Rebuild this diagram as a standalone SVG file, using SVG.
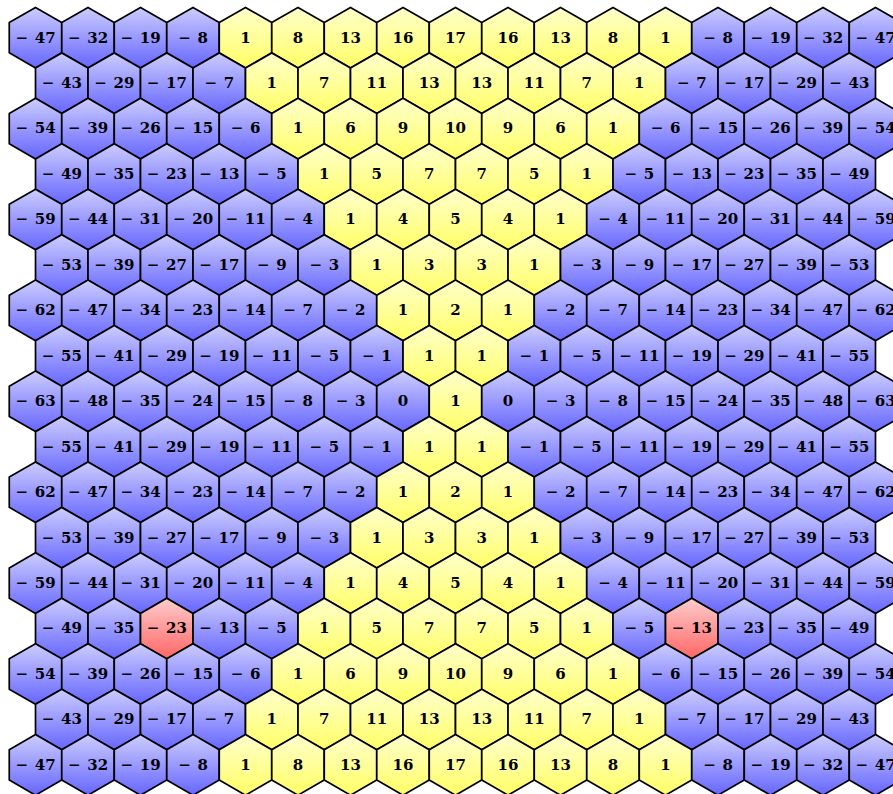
<svg xmlns="http://www.w3.org/2000/svg" xmlns:xlink="http://www.w3.org/1999/xlink" width="893" height="794" viewBox="0 0 893 794">
<defs>
<linearGradient id="gb" x1="0" y1="0" x2="0" y2="1"><stop offset="0" stop-color="#ccccff"/><stop offset="1" stop-color="#6666ff"/></linearGradient>
<linearGradient id="gy" x1="0" y1="0" x2="0" y2="1"><stop offset="0" stop-color="#ffffcc"/><stop offset="1" stop-color="#ffff66"/></linearGradient>
<linearGradient id="gr" x1="0" y1="0" x2="0" y2="1"><stop offset="0" stop-color="#ffcccc"/><stop offset="1" stop-color="#ff6666"/></linearGradient>
<path id="h" d="M0,-30.3 L26.24,-15.15 L26.24,15.15 L0,30.3 L-26.24,15.15 L-26.24,-15.15 Z"/>
</defs>
<style>
use{stroke:#000;stroke-width:1.7;stroke-linejoin:round}
.b{fill:url(#gb)}.y{fill:url(#gy)}.r{fill:url(#gr)}
text{font-family:"DejaVu Serif","Liberation Serif",serif;font-weight:bold;font-size:15px;text-anchor:middle;fill:#000;word-spacing:1.5px}
</style>
<rect width="893" height="794" fill="#fff"/>
<g id="cells">
<g id="r0c0" transform="translate(35.5,37.7)"><use href="#h" class="b"/><text y="4.8">− 47</text></g>
<g id="r0c1" transform="translate(88,37.7)"><use href="#h" class="b"/><text y="4.8">− 32</text></g>
<g id="r0c2" transform="translate(140.5,37.7)"><use href="#h" class="b"/><text y="4.8">− 19</text></g>
<g id="r0c3" transform="translate(193,37.7)"><use href="#h" class="b"/><text y="4.8">− 8</text></g>
<g id="r0c4" transform="translate(245.5,37.7)"><use href="#h" class="y"/><text y="4.8">1</text></g>
<g id="r0c5" transform="translate(298,37.7)"><use href="#h" class="y"/><text y="4.8">8</text></g>
<g id="r0c6" transform="translate(350.5,37.7)"><use href="#h" class="y"/><text y="4.8">13</text></g>
<g id="r0c7" transform="translate(403,37.7)"><use href="#h" class="y"/><text y="4.8">16</text></g>
<g id="r0c8" transform="translate(455.5,37.7)"><use href="#h" class="y"/><text y="4.8">17</text></g>
<g id="r0c9" transform="translate(508,37.7)"><use href="#h" class="y"/><text y="4.8">16</text></g>
<g id="r0c10" transform="translate(560.5,37.7)"><use href="#h" class="y"/><text y="4.8">13</text></g>
<g id="r0c11" transform="translate(613,37.7)"><use href="#h" class="y"/><text y="4.8">8</text></g>
<g id="r0c12" transform="translate(665.5,37.7)"><use href="#h" class="y"/><text y="4.8">1</text></g>
<g id="r0c13" transform="translate(718,37.7)"><use href="#h" class="b"/><text y="4.8">− 8</text></g>
<g id="r0c14" transform="translate(770.5,37.7)"><use href="#h" class="b"/><text y="4.8">− 19</text></g>
<g id="r0c15" transform="translate(823,37.7)"><use href="#h" class="b"/><text y="4.8">− 32</text></g>
<g id="r0c16" transform="translate(875.5,37.7)"><use href="#h" class="b"/><text y="4.8">− 47</text></g>

<g id="r1c0" transform="translate(61.75,83.2)"><use href="#h" class="b"/><text y="4.8">− 43</text></g>
<g id="r1c1" transform="translate(114.25,83.2)"><use href="#h" class="b"/><text y="4.8">− 29</text></g>
<g id="r1c2" transform="translate(166.75,83.2)"><use href="#h" class="b"/><text y="4.8">− 17</text></g>
<g id="r1c3" transform="translate(219.25,83.2)"><use href="#h" class="b"/><text y="4.8">− 7</text></g>
<g id="r1c4" transform="translate(271.75,83.2)"><use href="#h" class="y"/><text y="4.8">1</text></g>
<g id="r1c5" transform="translate(324.25,83.2)"><use href="#h" class="y"/><text y="4.8">7</text></g>
<g id="r1c6" transform="translate(376.75,83.2)"><use href="#h" class="y"/><text y="4.8">11</text></g>
<g id="r1c7" transform="translate(429.25,83.2)"><use href="#h" class="y"/><text y="4.8">13</text></g>
<g id="r1c8" transform="translate(481.75,83.2)"><use href="#h" class="y"/><text y="4.8">13</text></g>
<g id="r1c9" transform="translate(534.25,83.2)"><use href="#h" class="y"/><text y="4.8">11</text></g>
<g id="r1c10" transform="translate(586.75,83.2)"><use href="#h" class="y"/><text y="4.8">7</text></g>
<g id="r1c11" transform="translate(639.25,83.2)"><use href="#h" class="y"/><text y="4.8">1</text></g>
<g id="r1c12" transform="translate(691.75,83.2)"><use href="#h" class="b"/><text y="4.8">− 7</text></g>
<g id="r1c13" transform="translate(744.25,83.2)"><use href="#h" class="b"/><text y="4.8">− 17</text></g>
<g id="r1c14" transform="translate(796.75,83.2)"><use href="#h" class="b"/><text y="4.8">− 29</text></g>
<g id="r1c15" transform="translate(849.25,83.2)"><use href="#h" class="b"/><text y="4.8">− 43</text></g>

<g id="r2c0" transform="translate(35.5,128.6)"><use href="#h" class="b"/><text y="4.8">− 54</text></g>
<g id="r2c1" transform="translate(88,128.6)"><use href="#h" class="b"/><text y="4.8">− 39</text></g>
<g id="r2c2" transform="translate(140.5,128.6)"><use href="#h" class="b"/><text y="4.8">− 26</text></g>
<g id="r2c3" transform="translate(193,128.6)"><use href="#h" class="b"/><text y="4.8">− 15</text></g>
<g id="r2c4" transform="translate(245.5,128.6)"><use href="#h" class="b"/><text y="4.8">− 6</text></g>
<g id="r2c5" transform="translate(298,128.6)"><use href="#h" class="y"/><text y="4.8">1</text></g>
<g id="r2c6" transform="translate(350.5,128.6)"><use href="#h" class="y"/><text y="4.8">6</text></g>
<g id="r2c7" transform="translate(403,128.6)"><use href="#h" class="y"/><text y="4.8">9</text></g>
<g id="r2c8" transform="translate(455.5,128.6)"><use href="#h" class="y"/><text y="4.8">10</text></g>
<g id="r2c9" transform="translate(508,128.6)"><use href="#h" class="y"/><text y="4.8">9</text></g>
<g id="r2c10" transform="translate(560.5,128.6)"><use href="#h" class="y"/><text y="4.8">6</text></g>
<g id="r2c11" transform="translate(613,128.6)"><use href="#h" class="y"/><text y="4.8">1</text></g>
<g id="r2c12" transform="translate(665.5,128.6)"><use href="#h" class="b"/><text y="4.8">− 6</text></g>
<g id="r2c13" transform="translate(718,128.6)"><use href="#h" class="b"/><text y="4.8">− 15</text></g>
<g id="r2c14" transform="translate(770.5,128.6)"><use href="#h" class="b"/><text y="4.8">− 26</text></g>
<g id="r2c15" transform="translate(823,128.6)"><use href="#h" class="b"/><text y="4.8">− 39</text></g>
<g id="r2c16" transform="translate(875.5,128.6)"><use href="#h" class="b"/><text y="4.8">− 54</text></g>

<g id="r3c0" transform="translate(61.75,174.1)"><use href="#h" class="b"/><text y="4.8">− 49</text></g>
<g id="r3c1" transform="translate(114.25,174.1)"><use href="#h" class="b"/><text y="4.8">− 35</text></g>
<g id="r3c2" transform="translate(166.75,174.1)"><use href="#h" class="b"/><text y="4.8">− 23</text></g>
<g id="r3c3" transform="translate(219.25,174.1)"><use href="#h" class="b"/><text y="4.8">− 13</text></g>
<g id="r3c4" transform="translate(271.75,174.1)"><use href="#h" class="b"/><text y="4.8">− 5</text></g>
<g id="r3c5" transform="translate(324.25,174.1)"><use href="#h" class="y"/><text y="4.8">1</text></g>
<g id="r3c6" transform="translate(376.75,174.1)"><use href="#h" class="y"/><text y="4.8">5</text></g>
<g id="r3c7" transform="translate(429.25,174.1)"><use href="#h" class="y"/><text y="4.8">7</text></g>
<g id="r3c8" transform="translate(481.75,174.1)"><use href="#h" class="y"/><text y="4.8">7</text></g>
<g id="r3c9" transform="translate(534.25,174.1)"><use href="#h" class="y"/><text y="4.8">5</text></g>
<g id="r3c10" transform="translate(586.75,174.1)"><use href="#h" class="y"/><text y="4.8">1</text></g>
<g id="r3c11" transform="translate(639.25,174.1)"><use href="#h" class="b"/><text y="4.8">− 5</text></g>
<g id="r3c12" transform="translate(691.75,174.1)"><use href="#h" class="b"/><text y="4.8">− 13</text></g>
<g id="r3c13" transform="translate(744.25,174.1)"><use href="#h" class="b"/><text y="4.8">− 23</text></g>
<g id="r3c14" transform="translate(796.75,174.1)"><use href="#h" class="b"/><text y="4.8">− 35</text></g>
<g id="r3c15" transform="translate(849.25,174.1)"><use href="#h" class="b"/><text y="4.8">− 49</text></g>

<g id="r4c0" transform="translate(35.5,219.5)"><use href="#h" class="b"/><text y="4.8">− 59</text></g>
<g id="r4c1" transform="translate(88,219.5)"><use href="#h" class="b"/><text y="4.8">− 44</text></g>
<g id="r4c2" transform="translate(140.5,219.5)"><use href="#h" class="b"/><text y="4.8">− 31</text></g>
<g id="r4c3" transform="translate(193,219.5)"><use href="#h" class="b"/><text y="4.8">− 20</text></g>
<g id="r4c4" transform="translate(245.5,219.5)"><use href="#h" class="b"/><text y="4.8">− 11</text></g>
<g id="r4c5" transform="translate(298,219.5)"><use href="#h" class="b"/><text y="4.8">− 4</text></g>
<g id="r4c6" transform="translate(350.5,219.5)"><use href="#h" class="y"/><text y="4.8">1</text></g>
<g id="r4c7" transform="translate(403,219.5)"><use href="#h" class="y"/><text y="4.8">4</text></g>
<g id="r4c8" transform="translate(455.5,219.5)"><use href="#h" class="y"/><text y="4.8">5</text></g>
<g id="r4c9" transform="translate(508,219.5)"><use href="#h" class="y"/><text y="4.8">4</text></g>
<g id="r4c10" transform="translate(560.5,219.5)"><use href="#h" class="y"/><text y="4.8">1</text></g>
<g id="r4c11" transform="translate(613,219.5)"><use href="#h" class="b"/><text y="4.8">− 4</text></g>
<g id="r4c12" transform="translate(665.5,219.5)"><use href="#h" class="b"/><text y="4.8">− 11</text></g>
<g id="r4c13" transform="translate(718,219.5)"><use href="#h" class="b"/><text y="4.8">− 20</text></g>
<g id="r4c14" transform="translate(770.5,219.5)"><use href="#h" class="b"/><text y="4.8">− 31</text></g>
<g id="r4c15" transform="translate(823,219.5)"><use href="#h" class="b"/><text y="4.8">− 44</text></g>
<g id="r4c16" transform="translate(875.5,219.5)"><use href="#h" class="b"/><text y="4.8">− 59</text></g>

<g id="r5c0" transform="translate(61.75,265)"><use href="#h" class="b"/><text y="4.8">− 53</text></g>
<g id="r5c1" transform="translate(114.25,265)"><use href="#h" class="b"/><text y="4.8">− 39</text></g>
<g id="r5c2" transform="translate(166.75,265)"><use href="#h" class="b"/><text y="4.8">− 27</text></g>
<g id="r5c3" transform="translate(219.25,265)"><use href="#h" class="b"/><text y="4.8">− 17</text></g>
<g id="r5c4" transform="translate(271.75,265)"><use href="#h" class="b"/><text y="4.8">− 9</text></g>
<g id="r5c5" transform="translate(324.25,265)"><use href="#h" class="b"/><text y="4.8">− 3</text></g>
<g id="r5c6" transform="translate(376.75,265)"><use href="#h" class="y"/><text y="4.8">1</text></g>
<g id="r5c7" transform="translate(429.25,265)"><use href="#h" class="y"/><text y="4.8">3</text></g>
<g id="r5c8" transform="translate(481.75,265)"><use href="#h" class="y"/><text y="4.8">3</text></g>
<g id="r5c9" transform="translate(534.25,265)"><use href="#h" class="y"/><text y="4.8">1</text></g>
<g id="r5c10" transform="translate(586.75,265)"><use href="#h" class="b"/><text y="4.8">− 3</text></g>
<g id="r5c11" transform="translate(639.25,265)"><use href="#h" class="b"/><text y="4.8">− 9</text></g>
<g id="r5c12" transform="translate(691.75,265)"><use href="#h" class="b"/><text y="4.8">− 17</text></g>
<g id="r5c13" transform="translate(744.25,265)"><use href="#h" class="b"/><text y="4.8">− 27</text></g>
<g id="r5c14" transform="translate(796.75,265)"><use href="#h" class="b"/><text y="4.8">− 39</text></g>
<g id="r5c15" transform="translate(849.25,265)"><use href="#h" class="b"/><text y="4.8">− 53</text></g>

<g id="r6c0" transform="translate(35.5,310.4)"><use href="#h" class="b"/><text y="4.8">− 62</text></g>
<g id="r6c1" transform="translate(88,310.4)"><use href="#h" class="b"/><text y="4.8">− 47</text></g>
<g id="r6c2" transform="translate(140.5,310.4)"><use href="#h" class="b"/><text y="4.8">− 34</text></g>
<g id="r6c3" transform="translate(193,310.4)"><use href="#h" class="b"/><text y="4.8">− 23</text></g>
<g id="r6c4" transform="translate(245.5,310.4)"><use href="#h" class="b"/><text y="4.8">− 14</text></g>
<g id="r6c5" transform="translate(298,310.4)"><use href="#h" class="b"/><text y="4.8">− 7</text></g>
<g id="r6c6" transform="translate(350.5,310.4)"><use href="#h" class="b"/><text y="4.8">− 2</text></g>
<g id="r6c7" transform="translate(403,310.4)"><use href="#h" class="y"/><text y="4.8">1</text></g>
<g id="r6c8" transform="translate(455.5,310.4)"><use href="#h" class="y"/><text y="4.8">2</text></g>
<g id="r6c9" transform="translate(508,310.4)"><use href="#h" class="y"/><text y="4.8">1</text></g>
<g id="r6c10" transform="translate(560.5,310.4)"><use href="#h" class="b"/><text y="4.8">− 2</text></g>
<g id="r6c11" transform="translate(613,310.4)"><use href="#h" class="b"/><text y="4.8">− 7</text></g>
<g id="r6c12" transform="translate(665.5,310.4)"><use href="#h" class="b"/><text y="4.8">− 14</text></g>
<g id="r6c13" transform="translate(718,310.4)"><use href="#h" class="b"/><text y="4.8">− 23</text></g>
<g id="r6c14" transform="translate(770.5,310.4)"><use href="#h" class="b"/><text y="4.8">− 34</text></g>
<g id="r6c15" transform="translate(823,310.4)"><use href="#h" class="b"/><text y="4.8">− 47</text></g>
<g id="r6c16" transform="translate(875.5,310.4)"><use href="#h" class="b"/><text y="4.8">− 62</text></g>

<g id="r7c0" transform="translate(61.75,355.9)"><use href="#h" class="b"/><text y="4.8">− 55</text></g>
<g id="r7c1" transform="translate(114.25,355.9)"><use href="#h" class="b"/><text y="4.8">− 41</text></g>
<g id="r7c2" transform="translate(166.75,355.9)"><use href="#h" class="b"/><text y="4.8">− 29</text></g>
<g id="r7c3" transform="translate(219.25,355.9)"><use href="#h" class="b"/><text y="4.8">− 19</text></g>
<g id="r7c4" transform="translate(271.75,355.9)"><use href="#h" class="b"/><text y="4.8">− 11</text></g>
<g id="r7c5" transform="translate(324.25,355.9)"><use href="#h" class="b"/><text y="4.8">− 5</text></g>
<g id="r7c6" transform="translate(376.75,355.9)"><use href="#h" class="b"/><text y="4.8">− 1</text></g>
<g id="r7c7" transform="translate(429.25,355.9)"><use href="#h" class="y"/><text y="4.8">1</text></g>
<g id="r7c8" transform="translate(481.75,355.9)"><use href="#h" class="y"/><text y="4.8">1</text></g>
<g id="r7c9" transform="translate(534.25,355.9)"><use href="#h" class="b"/><text y="4.8">− 1</text></g>
<g id="r7c10" transform="translate(586.75,355.9)"><use href="#h" class="b"/><text y="4.8">− 5</text></g>
<g id="r7c11" transform="translate(639.25,355.9)"><use href="#h" class="b"/><text y="4.8">− 11</text></g>
<g id="r7c12" transform="translate(691.75,355.9)"><use href="#h" class="b"/><text y="4.8">− 19</text></g>
<g id="r7c13" transform="translate(744.25,355.9)"><use href="#h" class="b"/><text y="4.8">− 29</text></g>
<g id="r7c14" transform="translate(796.75,355.9)"><use href="#h" class="b"/><text y="4.8">− 41</text></g>
<g id="r7c15" transform="translate(849.25,355.9)"><use href="#h" class="b"/><text y="4.8">− 55</text></g>

<g id="r8c0" transform="translate(35.5,401.3)"><use href="#h" class="b"/><text y="4.8">− 63</text></g>
<g id="r8c1" transform="translate(88,401.3)"><use href="#h" class="b"/><text y="4.8">− 48</text></g>
<g id="r8c2" transform="translate(140.5,401.3)"><use href="#h" class="b"/><text y="4.8">− 35</text></g>
<g id="r8c3" transform="translate(193,401.3)"><use href="#h" class="b"/><text y="4.8">− 24</text></g>
<g id="r8c4" transform="translate(245.5,401.3)"><use href="#h" class="b"/><text y="4.8">− 15</text></g>
<g id="r8c5" transform="translate(298,401.3)"><use href="#h" class="b"/><text y="4.8">− 8</text></g>
<g id="r8c6" transform="translate(350.5,401.3)"><use href="#h" class="b"/><text y="4.8">− 3</text></g>
<g id="r8c7" transform="translate(403,401.3)"><use href="#h" class="b"/><text y="4.8">0</text></g>
<g id="r8c8" transform="translate(455.5,401.3)"><use href="#h" class="y"/><text y="4.8">1</text></g>
<g id="r8c9" transform="translate(508,401.3)"><use href="#h" class="b"/><text y="4.8">0</text></g>
<g id="r8c10" transform="translate(560.5,401.3)"><use href="#h" class="b"/><text y="4.8">− 3</text></g>
<g id="r8c11" transform="translate(613,401.3)"><use href="#h" class="b"/><text y="4.8">− 8</text></g>
<g id="r8c12" transform="translate(665.5,401.3)"><use href="#h" class="b"/><text y="4.8">− 15</text></g>
<g id="r8c13" transform="translate(718,401.3)"><use href="#h" class="b"/><text y="4.8">− 24</text></g>
<g id="r8c14" transform="translate(770.5,401.3)"><use href="#h" class="b"/><text y="4.8">− 35</text></g>
<g id="r8c15" transform="translate(823,401.3)"><use href="#h" class="b"/><text y="4.8">− 48</text></g>
<g id="r8c16" transform="translate(875.5,401.3)"><use href="#h" class="b"/><text y="4.8">− 63</text></g>

<g id="r9c0" transform="translate(61.75,446.8)"><use href="#h" class="b"/><text y="4.8">− 55</text></g>
<g id="r9c1" transform="translate(114.25,446.8)"><use href="#h" class="b"/><text y="4.8">− 41</text></g>
<g id="r9c2" transform="translate(166.75,446.8)"><use href="#h" class="b"/><text y="4.8">− 29</text></g>
<g id="r9c3" transform="translate(219.25,446.8)"><use href="#h" class="b"/><text y="4.8">− 19</text></g>
<g id="r9c4" transform="translate(271.75,446.8)"><use href="#h" class="b"/><text y="4.8">− 11</text></g>
<g id="r9c5" transform="translate(324.25,446.8)"><use href="#h" class="b"/><text y="4.8">− 5</text></g>
<g id="r9c6" transform="translate(376.75,446.8)"><use href="#h" class="b"/><text y="4.8">− 1</text></g>
<g id="r9c7" transform="translate(429.25,446.8)"><use href="#h" class="y"/><text y="4.8">1</text></g>
<g id="r9c8" transform="translate(481.75,446.8)"><use href="#h" class="y"/><text y="4.8">1</text></g>
<g id="r9c9" transform="translate(534.25,446.8)"><use href="#h" class="b"/><text y="4.8">− 1</text></g>
<g id="r9c10" transform="translate(586.75,446.8)"><use href="#h" class="b"/><text y="4.8">− 5</text></g>
<g id="r9c11" transform="translate(639.25,446.8)"><use href="#h" class="b"/><text y="4.8">− 11</text></g>
<g id="r9c12" transform="translate(691.75,446.8)"><use href="#h" class="b"/><text y="4.8">− 19</text></g>
<g id="r9c13" transform="translate(744.25,446.8)"><use href="#h" class="b"/><text y="4.8">− 29</text></g>
<g id="r9c14" transform="translate(796.75,446.8)"><use href="#h" class="b"/><text y="4.8">− 41</text></g>
<g id="r9c15" transform="translate(849.25,446.8)"><use href="#h" class="b"/><text y="4.8">− 55</text></g>

<g id="r10c0" transform="translate(35.5,492.2)"><use href="#h" class="b"/><text y="4.8">− 62</text></g>
<g id="r10c1" transform="translate(88,492.2)"><use href="#h" class="b"/><text y="4.8">− 47</text></g>
<g id="r10c2" transform="translate(140.5,492.2)"><use href="#h" class="b"/><text y="4.8">− 34</text></g>
<g id="r10c3" transform="translate(193,492.2)"><use href="#h" class="b"/><text y="4.8">− 23</text></g>
<g id="r10c4" transform="translate(245.5,492.2)"><use href="#h" class="b"/><text y="4.8">− 14</text></g>
<g id="r10c5" transform="translate(298,492.2)"><use href="#h" class="b"/><text y="4.8">− 7</text></g>
<g id="r10c6" transform="translate(350.5,492.2)"><use href="#h" class="b"/><text y="4.8">− 2</text></g>
<g id="r10c7" transform="translate(403,492.2)"><use href="#h" class="y"/><text y="4.8">1</text></g>
<g id="r10c8" transform="translate(455.5,492.2)"><use href="#h" class="y"/><text y="4.8">2</text></g>
<g id="r10c9" transform="translate(508,492.2)"><use href="#h" class="y"/><text y="4.8">1</text></g>
<g id="r10c10" transform="translate(560.5,492.2)"><use href="#h" class="b"/><text y="4.8">− 2</text></g>
<g id="r10c11" transform="translate(613,492.2)"><use href="#h" class="b"/><text y="4.8">− 7</text></g>
<g id="r10c12" transform="translate(665.5,492.2)"><use href="#h" class="b"/><text y="4.8">− 14</text></g>
<g id="r10c13" transform="translate(718,492.2)"><use href="#h" class="b"/><text y="4.8">− 23</text></g>
<g id="r10c14" transform="translate(770.5,492.2)"><use href="#h" class="b"/><text y="4.8">− 34</text></g>
<g id="r10c15" transform="translate(823,492.2)"><use href="#h" class="b"/><text y="4.8">− 47</text></g>
<g id="r10c16" transform="translate(875.5,492.2)"><use href="#h" class="b"/><text y="4.8">− 62</text></g>

<g id="r11c0" transform="translate(61.75,537.7)"><use href="#h" class="b"/><text y="4.8">− 53</text></g>
<g id="r11c1" transform="translate(114.25,537.7)"><use href="#h" class="b"/><text y="4.8">− 39</text></g>
<g id="r11c2" transform="translate(166.75,537.7)"><use href="#h" class="b"/><text y="4.8">− 27</text></g>
<g id="r11c3" transform="translate(219.25,537.7)"><use href="#h" class="b"/><text y="4.8">− 17</text></g>
<g id="r11c4" transform="translate(271.75,537.7)"><use href="#h" class="b"/><text y="4.8">− 9</text></g>
<g id="r11c5" transform="translate(324.25,537.7)"><use href="#h" class="b"/><text y="4.8">− 3</text></g>
<g id="r11c6" transform="translate(376.75,537.7)"><use href="#h" class="y"/><text y="4.8">1</text></g>
<g id="r11c7" transform="translate(429.25,537.7)"><use href="#h" class="y"/><text y="4.8">3</text></g>
<g id="r11c8" transform="translate(481.75,537.7)"><use href="#h" class="y"/><text y="4.8">3</text></g>
<g id="r11c9" transform="translate(534.25,537.7)"><use href="#h" class="y"/><text y="4.8">1</text></g>
<g id="r11c10" transform="translate(586.75,537.7)"><use href="#h" class="b"/><text y="4.8">− 3</text></g>
<g id="r11c11" transform="translate(639.25,537.7)"><use href="#h" class="b"/><text y="4.8">− 9</text></g>
<g id="r11c12" transform="translate(691.75,537.7)"><use href="#h" class="b"/><text y="4.8">− 17</text></g>
<g id="r11c13" transform="translate(744.25,537.7)"><use href="#h" class="b"/><text y="4.8">− 27</text></g>
<g id="r11c14" transform="translate(796.75,537.7)"><use href="#h" class="b"/><text y="4.8">− 39</text></g>
<g id="r11c15" transform="translate(849.25,537.7)"><use href="#h" class="b"/><text y="4.8">− 53</text></g>

<g id="r12c0" transform="translate(35.5,583.1)"><use href="#h" class="b"/><text y="4.8">− 59</text></g>
<g id="r12c1" transform="translate(88,583.1)"><use href="#h" class="b"/><text y="4.8">− 44</text></g>
<g id="r12c2" transform="translate(140.5,583.1)"><use href="#h" class="b"/><text y="4.8">− 31</text></g>
<g id="r12c3" transform="translate(193,583.1)"><use href="#h" class="b"/><text y="4.8">− 20</text></g>
<g id="r12c4" transform="translate(245.5,583.1)"><use href="#h" class="b"/><text y="4.8">− 11</text></g>
<g id="r12c5" transform="translate(298,583.1)"><use href="#h" class="b"/><text y="4.8">− 4</text></g>
<g id="r12c6" transform="translate(350.5,583.1)"><use href="#h" class="y"/><text y="4.8">1</text></g>
<g id="r12c7" transform="translate(403,583.1)"><use href="#h" class="y"/><text y="4.8">4</text></g>
<g id="r12c8" transform="translate(455.5,583.1)"><use href="#h" class="y"/><text y="4.8">5</text></g>
<g id="r12c9" transform="translate(508,583.1)"><use href="#h" class="y"/><text y="4.8">4</text></g>
<g id="r12c10" transform="translate(560.5,583.1)"><use href="#h" class="y"/><text y="4.8">1</text></g>
<g id="r12c11" transform="translate(613,583.1)"><use href="#h" class="b"/><text y="4.8">− 4</text></g>
<g id="r12c12" transform="translate(665.5,583.1)"><use href="#h" class="b"/><text y="4.8">− 11</text></g>
<g id="r12c13" transform="translate(718,583.1)"><use href="#h" class="b"/><text y="4.8">− 20</text></g>
<g id="r12c14" transform="translate(770.5,583.1)"><use href="#h" class="b"/><text y="4.8">− 31</text></g>
<g id="r12c15" transform="translate(823,583.1)"><use href="#h" class="b"/><text y="4.8">− 44</text></g>
<g id="r12c16" transform="translate(875.5,583.1)"><use href="#h" class="b"/><text y="4.8">− 59</text></g>

<g id="r13c0" transform="translate(61.75,628.6)"><use href="#h" class="b"/><text y="4.8">− 49</text></g>
<g id="r13c1" transform="translate(114.25,628.6)"><use href="#h" class="b"/><text y="4.8">− 35</text></g>
<g id="r13c2" transform="translate(166.75,628.6)"><use href="#h" class="r"/><text y="4.8">− 23</text></g>
<g id="r13c3" transform="translate(219.25,628.6)"><use href="#h" class="b"/><text y="4.8">− 13</text></g>
<g id="r13c4" transform="translate(271.75,628.6)"><use href="#h" class="b"/><text y="4.8">− 5</text></g>
<g id="r13c5" transform="translate(324.25,628.6)"><use href="#h" class="y"/><text y="4.8">1</text></g>
<g id="r13c6" transform="translate(376.75,628.6)"><use href="#h" class="y"/><text y="4.8">5</text></g>
<g id="r13c7" transform="translate(429.25,628.6)"><use href="#h" class="y"/><text y="4.8">7</text></g>
<g id="r13c8" transform="translate(481.75,628.6)"><use href="#h" class="y"/><text y="4.8">7</text></g>
<g id="r13c9" transform="translate(534.25,628.6)"><use href="#h" class="y"/><text y="4.8">5</text></g>
<g id="r13c10" transform="translate(586.75,628.6)"><use href="#h" class="y"/><text y="4.8">1</text></g>
<g id="r13c11" transform="translate(639.25,628.6)"><use href="#h" class="b"/><text y="4.8">− 5</text></g>
<g id="r13c12" transform="translate(691.75,628.6)"><use href="#h" class="r"/><text y="4.8">− 13</text></g>
<g id="r13c13" transform="translate(744.25,628.6)"><use href="#h" class="b"/><text y="4.8">− 23</text></g>
<g id="r13c14" transform="translate(796.75,628.6)"><use href="#h" class="b"/><text y="4.8">− 35</text></g>
<g id="r13c15" transform="translate(849.25,628.6)"><use href="#h" class="b"/><text y="4.8">− 49</text></g>

<g id="r14c0" transform="translate(35.5,674)"><use href="#h" class="b"/><text y="4.8">− 54</text></g>
<g id="r14c1" transform="translate(88,674)"><use href="#h" class="b"/><text y="4.8">− 39</text></g>
<g id="r14c2" transform="translate(140.5,674)"><use href="#h" class="b"/><text y="4.8">− 26</text></g>
<g id="r14c3" transform="translate(193,674)"><use href="#h" class="b"/><text y="4.8">− 15</text></g>
<g id="r14c4" transform="translate(245.5,674)"><use href="#h" class="b"/><text y="4.8">− 6</text></g>
<g id="r14c5" transform="translate(298,674)"><use href="#h" class="y"/><text y="4.8">1</text></g>
<g id="r14c6" transform="translate(350.5,674)"><use href="#h" class="y"/><text y="4.8">6</text></g>
<g id="r14c7" transform="translate(403,674)"><use href="#h" class="y"/><text y="4.8">9</text></g>
<g id="r14c8" transform="translate(455.5,674)"><use href="#h" class="y"/><text y="4.8">10</text></g>
<g id="r14c9" transform="translate(508,674)"><use href="#h" class="y"/><text y="4.8">9</text></g>
<g id="r14c10" transform="translate(560.5,674)"><use href="#h" class="y"/><text y="4.8">6</text></g>
<g id="r14c11" transform="translate(613,674)"><use href="#h" class="y"/><text y="4.8">1</text></g>
<g id="r14c12" transform="translate(665.5,674)"><use href="#h" class="b"/><text y="4.8">− 6</text></g>
<g id="r14c13" transform="translate(718,674)"><use href="#h" class="b"/><text y="4.8">− 15</text></g>
<g id="r14c14" transform="translate(770.5,674)"><use href="#h" class="b"/><text y="4.8">− 26</text></g>
<g id="r14c15" transform="translate(823,674)"><use href="#h" class="b"/><text y="4.8">− 39</text></g>
<g id="r14c16" transform="translate(875.5,674)"><use href="#h" class="b"/><text y="4.8">− 54</text></g>

<g id="r15c0" transform="translate(61.75,719.5)"><use href="#h" class="b"/><text y="4.8">− 43</text></g>
<g id="r15c1" transform="translate(114.25,719.5)"><use href="#h" class="b"/><text y="4.8">− 29</text></g>
<g id="r15c2" transform="translate(166.75,719.5)"><use href="#h" class="b"/><text y="4.8">− 17</text></g>
<g id="r15c3" transform="translate(219.25,719.5)"><use href="#h" class="b"/><text y="4.8">− 7</text></g>
<g id="r15c4" transform="translate(271.75,719.5)"><use href="#h" class="y"/><text y="4.8">1</text></g>
<g id="r15c5" transform="translate(324.25,719.5)"><use href="#h" class="y"/><text y="4.8">7</text></g>
<g id="r15c6" transform="translate(376.75,719.5)"><use href="#h" class="y"/><text y="4.8">11</text></g>
<g id="r15c7" transform="translate(429.25,719.5)"><use href="#h" class="y"/><text y="4.8">13</text></g>
<g id="r15c8" transform="translate(481.75,719.5)"><use href="#h" class="y"/><text y="4.8">13</text></g>
<g id="r15c9" transform="translate(534.25,719.5)"><use href="#h" class="y"/><text y="4.8">11</text></g>
<g id="r15c10" transform="translate(586.75,719.5)"><use href="#h" class="y"/><text y="4.8">7</text></g>
<g id="r15c11" transform="translate(639.25,719.5)"><use href="#h" class="y"/><text y="4.8">1</text></g>
<g id="r15c12" transform="translate(691.75,719.5)"><use href="#h" class="b"/><text y="4.8">− 7</text></g>
<g id="r15c13" transform="translate(744.25,719.5)"><use href="#h" class="b"/><text y="4.8">− 17</text></g>
<g id="r15c14" transform="translate(796.75,719.5)"><use href="#h" class="b"/><text y="4.8">− 29</text></g>
<g id="r15c15" transform="translate(849.25,719.5)"><use href="#h" class="b"/><text y="4.8">− 43</text></g>

<g id="r16c0" transform="translate(35.5,764.9)"><use href="#h" class="b"/><text y="4.8">− 47</text></g>
<g id="r16c1" transform="translate(88,764.9)"><use href="#h" class="b"/><text y="4.8">− 32</text></g>
<g id="r16c2" transform="translate(140.5,764.9)"><use href="#h" class="b"/><text y="4.8">− 19</text></g>
<g id="r16c3" transform="translate(193,764.9)"><use href="#h" class="b"/><text y="4.8">− 8</text></g>
<g id="r16c4" transform="translate(245.5,764.9)"><use href="#h" class="y"/><text y="4.8">1</text></g>
<g id="r16c5" transform="translate(298,764.9)"><use href="#h" class="y"/><text y="4.8">8</text></g>
<g id="r16c6" transform="translate(350.5,764.9)"><use href="#h" class="y"/><text y="4.8">13</text></g>
<g id="r16c7" transform="translate(403,764.9)"><use href="#h" class="y"/><text y="4.8">16</text></g>
<g id="r16c8" transform="translate(455.5,764.9)"><use href="#h" class="y"/><text y="4.8">17</text></g>
<g id="r16c9" transform="translate(508,764.9)"><use href="#h" class="y"/><text y="4.8">16</text></g>
<g id="r16c10" transform="translate(560.5,764.9)"><use href="#h" class="y"/><text y="4.8">13</text></g>
<g id="r16c11" transform="translate(613,764.9)"><use href="#h" class="y"/><text y="4.8">8</text></g>
<g id="r16c12" transform="translate(665.5,764.9)"><use href="#h" class="y"/><text y="4.8">1</text></g>
<g id="r16c13" transform="translate(718,764.9)"><use href="#h" class="b"/><text y="4.8">− 8</text></g>
<g id="r16c14" transform="translate(770.5,764.9)"><use href="#h" class="b"/><text y="4.8">− 19</text></g>
<g id="r16c15" transform="translate(823,764.9)"><use href="#h" class="b"/><text y="4.8">− 32</text></g>
<g id="r16c16" transform="translate(875.5,764.9)"><use href="#h" class="b"/><text y="4.8">− 47</text></g>
</g>
</svg>
